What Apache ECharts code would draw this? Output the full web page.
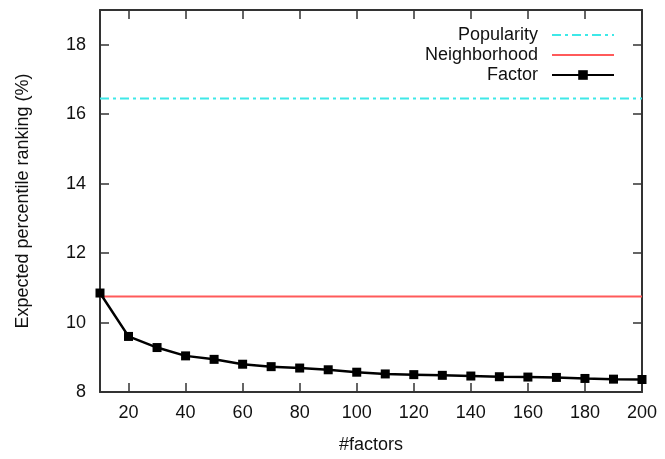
<!DOCTYPE html>
<html>
<head>
<meta charset="utf-8">
<script src="https://cdn.jsdelivr.net/npm/echarts@6/dist/echarts.min.js"></script>
<style>html,body{margin:0;padding:0;background:#fff}#c{width:665px;height:459px}</style>
</head>
<body>
<div id="c"></div>
<script>
var factors = [10,20,30,40,50,60,70,80,90,100,110,120,130,140,150,160,170,180,190,200];
var factorValues = [10.85,9.60,9.28,9.04,8.94,8.80,8.73,8.69,8.64,8.57,8.52,8.50,8.48,8.46,8.44,8.43,8.42,8.39,8.37,8.36];
var popularityValue = 16.45;
var neighborhoodValue = 10.75;
var xTicks = [20,40,60,80,100,120,140,160,180,200];
var yTicks = [8,10,12,14,16,18];
var xRange = [10, 200];

var font = 'Liberation Sans, Arial, sans-serif';
var axisColor = '#333';
function xAxisBase(pos, showLabel) {
  return {
    type: 'value', position: pos, min: xRange[0], max: xRange[1],
    axisLine: {show: true, onZero: false, lineStyle: {color: axisColor, width: 2}},
    axisTick: {show: true, inside: true, length: 9, customValues: xTicks, lineStyle: {color: axisColor, width: 1.5}},
    axisLabel: {show: showLabel, customValues: xTicks, color: '#111', fontSize: 18, fontFamily: font, margin: 12},
    splitLine: {show: false}
  };
}
function yAxisBase(pos, showLabel) {
  return {
    type: 'value', position: pos, min: 8, max: 19,
    axisLine: {show: true, onZero: false, lineStyle: {color: axisColor, width: 2}},
    axisTick: {show: true, inside: true, length: 9, customValues: yTicks, lineStyle: {color: axisColor, width: 1.5}},
    axisLabel: {show: showLabel, customValues: yTicks, color: '#111', fontSize: 18, fontFamily: font, margin: 14},
    splitLine: {show: false}
  };
}
var xb = xAxisBase('bottom', true);
xb.name = '#factors'; xb.nameLocation = 'middle'; xb.nameGap = 44;
xb.nameTextStyle = {color: '#111', fontSize: 18, fontFamily: font};
var yl = yAxisBase('left', true);
yl.name = 'Expected percentile ranking (%)'; yl.nameLocation = 'middle'; yl.nameGap = 68;
yl.nameTextStyle = {color: '#111', fontSize: 18, fontFamily: font};

var chart = echarts.init(document.getElementById('c'));
chart.setOption({
  animation: false,
  backgroundColor: '#fff',
  grid: {left: 100, right: 23, top: 10, bottom: 67},
  legend: {
    right: 45, top: 21, orient: 'vertical', align: 'right',
    itemWidth: 62, itemHeight: 12, itemGap: 2,
    textStyle: {color: '#111', fontSize: 18, fontFamily: font, padding: [0, 9, 0, 0]},
    data: [
      {name: 'Popularity', itemStyle: {opacity: 0}},
      {name: 'Neighborhood', itemStyle: {opacity: 0}},
      'Factor'
    ]
  },
  xAxis: [xb, xAxisBase('top', false)],
  yAxis: [yl, yAxisBase('right', false)],
  series: [
    {name: 'Popularity', type: 'line', symbol: 'none',
     data: [[xRange[0], popularityValue], [xRange[1], popularityValue]],
     itemStyle: {color: '#3ee8e8'},
     lineStyle: {color: '#3ee8e8', width: 2, type: [9, 4, 3, 4]}},
    {name: 'Neighborhood', type: 'line', symbol: 'none',
     data: [[xRange[0], neighborhoodValue], [xRange[1], neighborhoodValue]],
     itemStyle: {color: '#ff5a5a'},
     lineStyle: {color: '#ff5a5a', width: 2}},
    {name: 'Factor', type: 'line', symbol: 'rect', symbolSize: 9,
     data: factors.map(function (f, i) { return [f, factorValues[i]]; }),
     itemStyle: {color: '#000'},
     lineStyle: {color: '#000', width: 2.5}}
  ]
});
</script>
</body>
</html>
